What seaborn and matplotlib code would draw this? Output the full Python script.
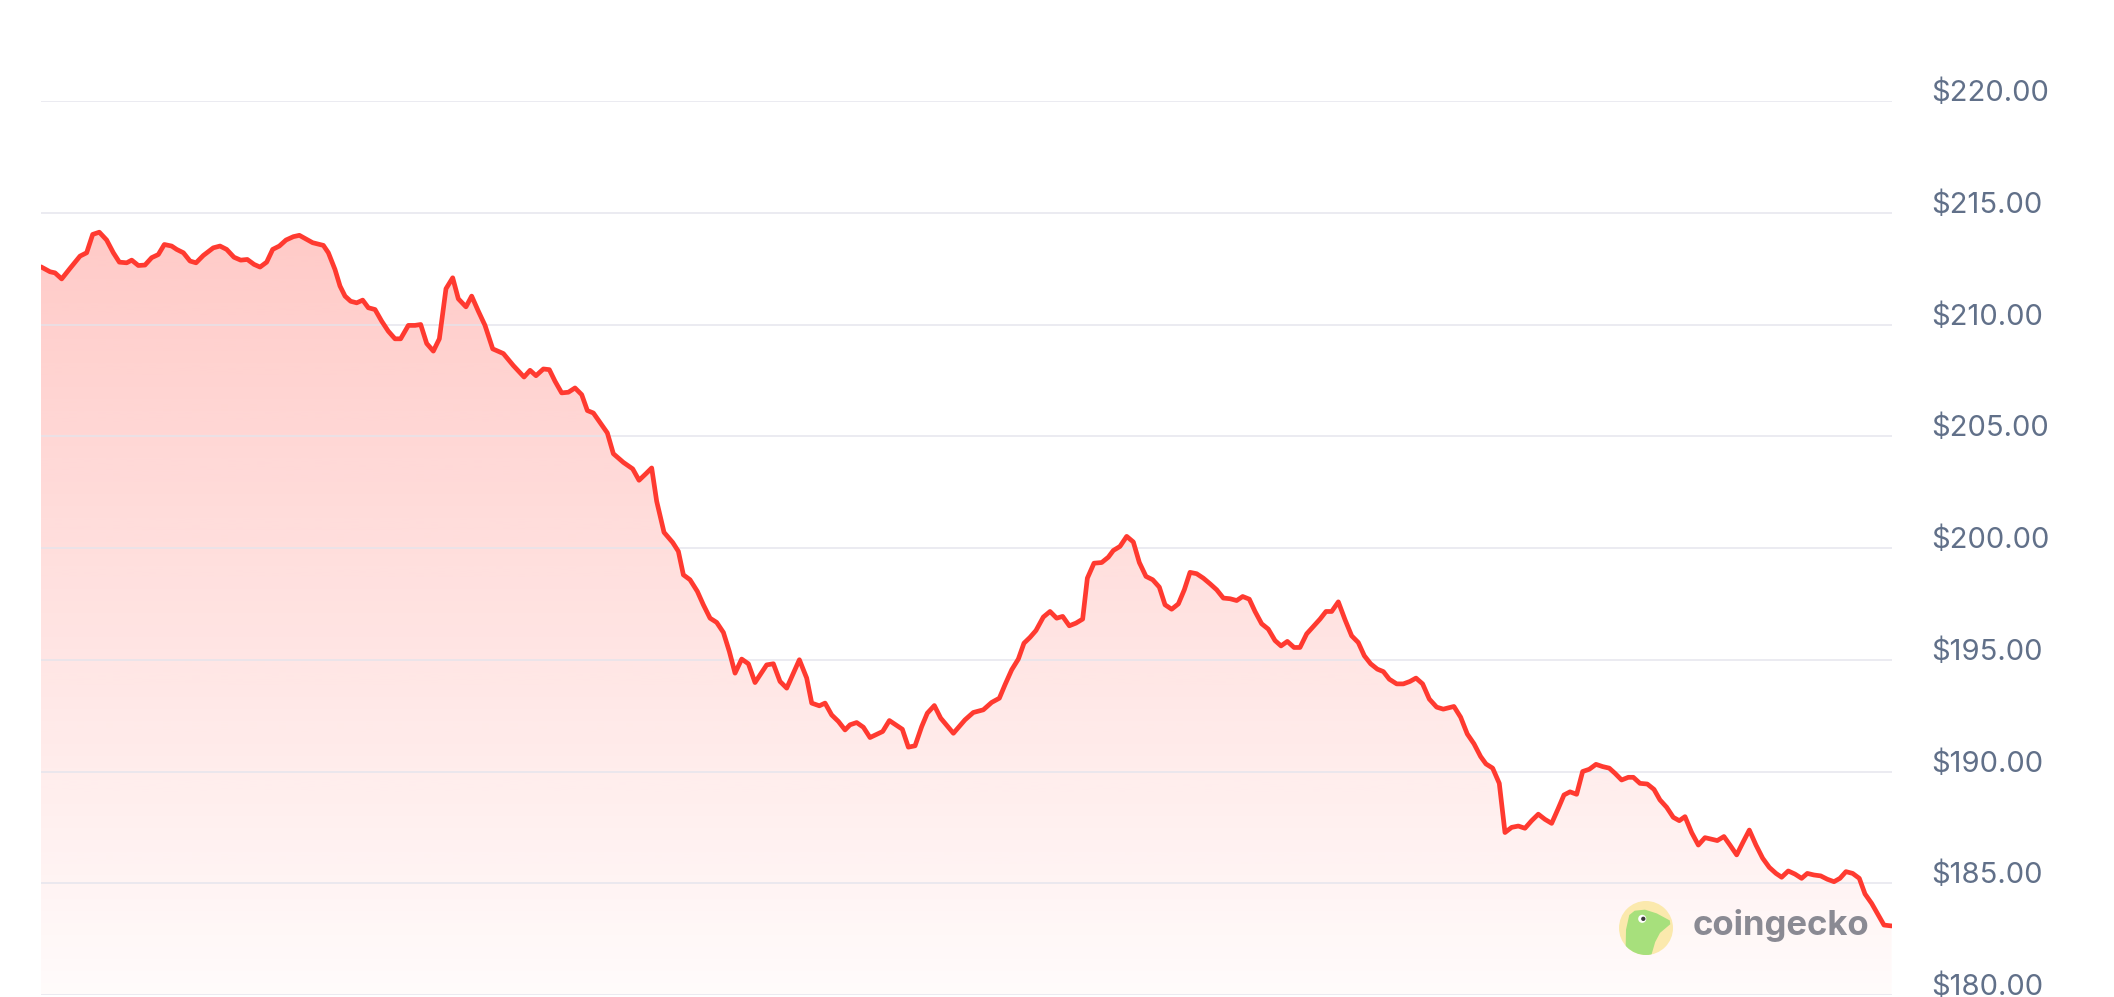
import numpy as np
import pandas as pd
import seaborn as sns
import matplotlib.pyplot as plt
from matplotlib.patches import Circle, Polygon

# hours since start of the 24h window
hours = [
    0.000, 0.117, 0.182, 0.268, 0.376, 0.506, 0.592, 0.670, 0.756, 0.851, 0.938, 1.016, 1.111, 1.176,
    1.262, 1.348, 1.435, 1.521, 1.599, 1.694, 1.759, 1.846, 1.932, 2.010, 2.105, 2.234, 2.321, 2.407,
    2.502, 2.589, 2.675, 2.762, 2.840, 2.926, 3.004, 3.090, 3.177, 3.272, 3.350, 3.445, 3.522, 3.661,
    3.726, 3.812, 3.877, 3.942, 4.015, 4.093, 4.171, 4.244, 4.331, 4.417, 4.503, 4.590, 4.663, 4.763,
    4.849, 4.923, 5.001, 5.087, 5.165, 5.251, 5.338, 5.411, 5.510, 5.584, 5.670, 5.757,
    5.857, 5.995, 6.125, 6.263, 6.341, 6.418, 6.514, 6.591, 6.665, 6.751, 6.838, 6.924, 7.011, 7.084,
    7.162, 7.248, 7.343, 7.421,
    7.551, 7.672, 7.754, 7.845, 7.918, 7.983, 8.078, 8.190, 8.264, 8.329, 8.415, 8.510, 8.588, 8.675,
    8.761, 8.848, 8.925, 8.999, 9.085, 9.172, 9.258, 9.409, 9.496, 9.582, 9.669, 9.833, 9.928, 9.993,
    10.092, 10.166, 10.252, 10.339, 10.425, 10.490, 10.576, 10.663, 10.749, 10.913, 11.000, 11.168,
    11.246, 11.333, 11.419, 11.492, 11.583, 11.665, 11.830,
    11.980, 12.088, 12.218, 12.326, 12.426, 12.499, 12.586, 12.672, 12.745, 12.823, 12.901, 12.996,
    13.083, 13.169, 13.247, 13.333, 13.420, 13.506, 13.567, 13.653, 13.753, 13.839, 13.904, 13.990,
    14.077, 14.163, 14.241, 14.327, 14.414, 14.500, 14.574, 14.660, 14.747, 14.824, 14.898, 14.984,
    15.071, 15.157, 15.244, 15.330, 15.417, 15.503, 15.581, 15.667, 15.741, 15.827, 15.913, 16.000,
    16.078, 16.160, 16.247, 16.324, 16.411, 16.506, 16.584, 16.661, 16.735, 16.821, 16.908, 16.994,
    17.080, 17.158, 17.240, 17.327, 17.405, 17.482, 17.578, 17.664, 17.750, 17.828,
    17.914, 18.001, 18.096, 18.182, 18.320, 18.407, 18.493, 18.580, 18.666, 18.735, 18.822, 18.908,
    18.982, 19.068, 19.155, 19.241, 19.328, 19.414, 19.500, 19.587, 19.673, 19.747, 19.825, 19.911,
    19.989, 20.075, 20.162, 20.248, 20.334, 20.408, 20.494, 20.581, 20.646, 20.732, 20.827, 20.914,
    20.991, 21.078, 21.164, 21.242, 21.316, 21.402, 21.489, 21.575, 21.661, 21.735, 21.821, 21.899,
    21.986, 22.072, 22.150, 22.236, 22.323, 22.409, 22.496, 22.569, 22.655, 22.742, 22.828, 22.902,
    22.988, 23.075, 23.161, 23.248, 23.325, 23.403, 23.490, 23.576, 23.650, 23.736, 23.822, 23.896,
    23.995,
]

price = [
    212.58, 212.36, 212.31, 212.04, 212.51, 213.06, 213.21, 214.03, 214.13, 213.78, 213.21, 212.79,
    212.76, 212.88, 212.64, 212.66, 212.99, 213.13, 213.58, 213.51, 213.36, 213.21, 212.84, 212.76,
    213.09, 213.43, 213.51, 213.36, 213.01, 212.88, 212.91, 212.69, 212.57, 212.79, 213.36, 213.51,
    213.78, 213.93, 213.99, 213.81, 213.66, 213.54, 213.21, 212.46, 211.72, 211.27, 211.04, 210.97,
    211.09, 210.75, 210.67, 210.15, 209.70, 209.36, 209.36, 209.96, 209.96, 210.00, 209.15, 208.81,
    209.36, 211.60, 212.09, 211.15, 210.79, 211.27, 210.60, 209.96,
    208.91, 208.70, 208.16, 207.65, 207.95, 207.71, 208.01, 207.98, 207.46, 206.94, 206.97, 207.16,
    206.86, 206.15, 206.04, 205.62, 205.15, 204.22,
    203.83, 203.54, 203.03, 203.33, 203.58, 202.09, 200.70, 200.25, 199.85, 198.80, 198.58, 198.06,
    197.46, 196.86, 196.67, 196.22, 195.37, 194.40, 195.03, 194.82, 193.98, 194.77, 194.82, 194.03,
    193.73, 195.00, 194.18, 193.06, 192.94, 193.06, 192.53, 192.24, 191.86, 192.09, 192.19, 191.98,
    191.52, 191.79, 192.28, 191.89, 191.09, 191.15, 192.01, 192.61, 192.95, 192.39, 191.71,
    192.31, 192.64, 192.76, 193.09, 193.28, 193.88, 194.55, 195.03, 195.74, 196.00, 196.31, 196.91,
    197.16, 196.86, 196.94, 196.52, 196.64, 196.82, 198.65, 199.32, 199.35, 199.59, 199.89, 200.07,
    200.52, 200.27, 199.35, 198.73, 198.58, 198.25, 197.46, 197.26, 197.50, 198.13, 198.91, 198.85,
    198.65, 198.40, 198.13, 197.76, 197.73, 197.65, 197.83, 197.71, 197.16, 196.61, 196.37, 195.86,
    195.62, 195.82, 195.55, 195.55, 196.16, 196.52, 196.82, 197.16, 197.16, 197.59, 196.79, 196.07,
    195.77, 195.18, 194.82, 194.58, 194.47, 194.13, 193.92, 193.92, 194.03, 194.18,
    193.92, 193.24, 192.88, 192.79, 192.91, 192.43, 191.68, 191.24, 190.67, 190.34, 190.15, 189.47,
    187.27, 187.50, 187.56, 187.46, 187.80, 188.09, 187.86, 187.68, 188.35, 188.95, 189.09, 188.98,
    190.00, 190.10, 190.32, 190.22, 190.15, 189.92, 189.62, 189.74, 189.74, 189.47, 189.44, 189.20,
    188.73, 188.40, 187.95, 187.80, 187.98, 187.27, 186.71, 187.04, 186.97, 186.91, 187.09, 186.71,
    186.27, 186.86, 187.38, 186.71, 186.12, 185.71, 185.44, 185.27, 185.55, 185.41, 185.22, 185.44,
    185.37, 185.33, 185.18, 185.07, 185.22, 185.52, 185.44, 185.22, 184.52, 184.10, 183.58, 183.13,
    183.09,
]

price_ticks = [180, 185, 190, 195, 200, 205, 210, 215, 220]
tick_labels = ['$180.00', '$185.00', '$190.00', '$195.00', '$200.00',
               '$205.00', '$210.00', '$215.00', '$220.00']

LINE = '#ff3a30'

sns.set_theme(style='white')
plt.rcParams['font.family'] = ['Inter', 'DejaVu Sans']

df = pd.DataFrame({'hours': hours, 'price': price})

fig = plt.figure(figsize=(21.14, 9.97), dpi=100)
fig.patch.set_facecolor('white')
ax = fig.add_axes([41 / 2114, 2 / 997, 1851 / 2114, 894 / 997])

# gradient area under the line
fill = ax.fill_between(df['hours'], df['price'], 180, facecolor='none', edgecolor='none')
grad = np.linspace(0.02, 0.27, 256).reshape(-1, 1)
rgba = np.zeros((256, 1, 4))
rgba[..., 0] = 1.0
rgba[..., 1] = 58 / 255
rgba[..., 2] = 48 / 255
rgba[..., 3] = grad
img = ax.imshow(rgba, extent=[0, 24, 180, max(price)], origin='lower',
                aspect='auto', zorder=1, interpolation='bilinear')
img.set_clip_path(fill.get_paths()[0], transform=ax.transData)

for v in price_ticks:
    ax.axhline(v, color='#e4e4ec', lw=1.2, zorder=2, alpha=0.85)

sns.lineplot(data=df, x='hours', y='price', ax=ax, color=LINE, lw=3.4,
             zorder=3, solid_joinstyle='round', solid_capstyle='round')

ax.set_xlim(0, 24)
ax.set_ylim(180, 220)
ax.set_xlabel('')
ax.set_ylabel('')
ax.set_xticks([])
ax.set_yticks(price_ticks)
ax.set_yticklabels(tick_labels)
ax.yaxis.tick_right()
ax.tick_params(axis='y', length=0, pad=28, labelsize=21, labelcolor='#617089')
for lab in ax.get_yticklabels():
    lab.set_va('baseline')
for s in ax.spines.values():
    s.set_visible(False)
ax.set_facecolor('none')

# coingecko watermark
lax = fig.add_axes([1619 / 2114, 42 / 997, 54 / 2114, 54 / 997])
lax.set_xlim(0, 1)
lax.set_ylim(0, 1)
lax.axis('off')
disc = Circle((0.5, 0.5), 0.5, facecolor='#fbe9ad', edgecolor='none')
lax.add_patch(disc)
gecko = Polygon([(0.12, 0.0), (0.13, 0.47), (0.19, 0.74), (0.29, 0.82), (0.48, 0.84),
                 (0.70, 0.77), (0.94, 0.64), (0.95, 0.57), (0.76, 0.41), (0.67, 0.24),
                 (0.60, 0.0)], closed=True, facecolor='#a7e07c', edgecolor='none')
lax.add_patch(gecko)
gecko.set_clip_path(disc)
lax.add_patch(Circle((0.43, 0.67), 0.075, facecolor='white', edgecolor='none'))
lax.add_patch(Circle((0.45, 0.67), 0.04, facecolor='#3a3a3a', edgecolor='none'))

fig.text(1693 / 2114, 62 / 997, 'coingecko', fontsize=25, fontweight='bold',
         color='#8a8a93', va='baseline', ha='left')

fig.savefig('out.png', dpi=100, facecolor='white')
